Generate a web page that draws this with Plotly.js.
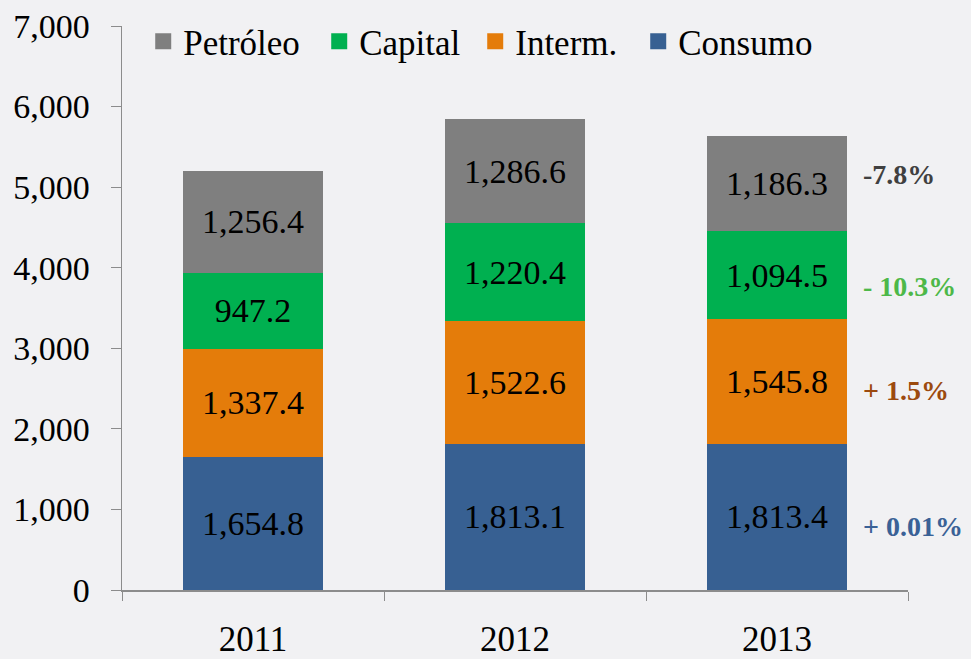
<!DOCTYPE html>
<html>
<head>
<meta charset="utf-8">
<script src="https://cdn.plot.ly/plotly-3.0.1.min.js"></script>
<style>html,body{margin:0;padding:0;background:#f1f1f3;}#chart{width:971px;height:659px;}</style>
</head>
<body>
<div id="chart"></div>
<script>
const years = ['2011', '2012', '2013'];
const consumo = [1654.8, 1813.1, 1813.4];
const interm = [1337.4, 1522.6, 1545.8];
const capital = [947.2, 1220.4, 1094.5];
const petroleo = [1256.4, 1286.6, 1186.3];
const seriesNames = ['Consumo', 'Interm.', 'Capital', 'Petróleo'];
const changeLabels = ['+ 0.01%', '+ 1.5%', '- 10.3%', '-7.8%'];

const colors = ['#376092', '#E47C0A', '#00B050', '#7F7F7F'];
const changeColors = ['#3A6196', '#9C4A0E', '#4DB848', '#404040'];
const legendWidths = [140, 118, 111, 131];
const serif = 'Liberation Serif';
const fmt = v => v.toLocaleString('en-US', {minimumFractionDigits: 1, maximumFractionDigits: 1});

const allSeries = [consumo, interm, capital, petroleo];
const traces = allSeries.map((vals, i) => ({
  type: 'bar',
  name: seriesNames[i],
  x: years,
  y: vals,
  text: vals.map(fmt),
  textposition: 'inside',
  insidetextanchor: 'middle',
  textangle: 0,
  constraintext: 'none',
  textfont: {family: serif, size: 34, color: '#000'},
  marker: {color: colors[i], line: {width: 0}},
  showlegend: false,
  hoverinfo: 'none'
}));

// legend entries (larger square swatches)
seriesNames.forEach((name, i) => {
  traces.push({
    type: 'scatter', mode: 'markers', name: name,
    x: [null], y: [null],
    marker: {symbol: 'square', size: 18, color: colors[i]},
    legendwidth: legendWidths[i],
    showlegend: true, hoverinfo: 'none'
  });
});

const annotations = [];
let base = 0;
const last = years.length - 1;
allSeries.forEach((vals, i) => {
  const mid = base + vals[last] / 2;
  base += vals[last];
  annotations.push({
    x: last, y: mid, xref: 'x', yref: 'y',
    text: '<b>' + changeLabels[i] + '</b>',
    showarrow: false, xanchor: 'left', xshift: 84, yshift: [-10, -9, -11, 9][i],
    font: {family: serif, size: 28, color: changeColors[i]}
  });
});

const layout = {
  width: 971, height: 659,
  paper_bgcolor: '#f1f1f3', plot_bgcolor: 'rgba(0,0,0,0)',
  margin: {l: 122, r: 63, t: 24, b: 69},
  barmode: 'stack',
  bargap: 0.465,
  showlegend: true,
  legend: {
    orientation: 'h', traceorder: 'reversed', itemsizing: 'trace',
    x: 0.027, y: 1.025, xanchor: 'left', yanchor: 'top',
    font: {family: serif, size: 35, color: '#000'},
    bgcolor: 'rgba(0,0,0,0)'
  },
  xaxis: {
    type: 'category', range: [-0.5, 2.5], autorange: false,
    showline: true, linecolor: '#8c8c8c', linewidth: 1.5,
    ticks: 'outside', tickson: 'boundaries', ticklen: 9, tickcolor: '#8c8c8c',
    ticklabelstandoff: 17,
    tickfont: {family: serif, size: 35, color: '#000'},
    showgrid: false, zeroline: false, fixedrange: true
  },
  yaxis: {
    range: [0, 7000], dtick: 1000, tickformat: ',',
    showline: true, linecolor: '#8c8c8c', linewidth: 1.5,
    ticks: 'outside', ticklen: 10, tickcolor: '#8c8c8c',
    ticklabelstandoff: 14,
    tickfont: {family: serif, size: 34, color: '#000'},
    showgrid: false, zeroline: false, fixedrange: true
  },
  annotations: annotations,
  font: {family: serif}
};

Plotly.newPlot('chart', traces, layout, {displayModeBar: false, staticPlot: true});
</script>
</body>
</html>
